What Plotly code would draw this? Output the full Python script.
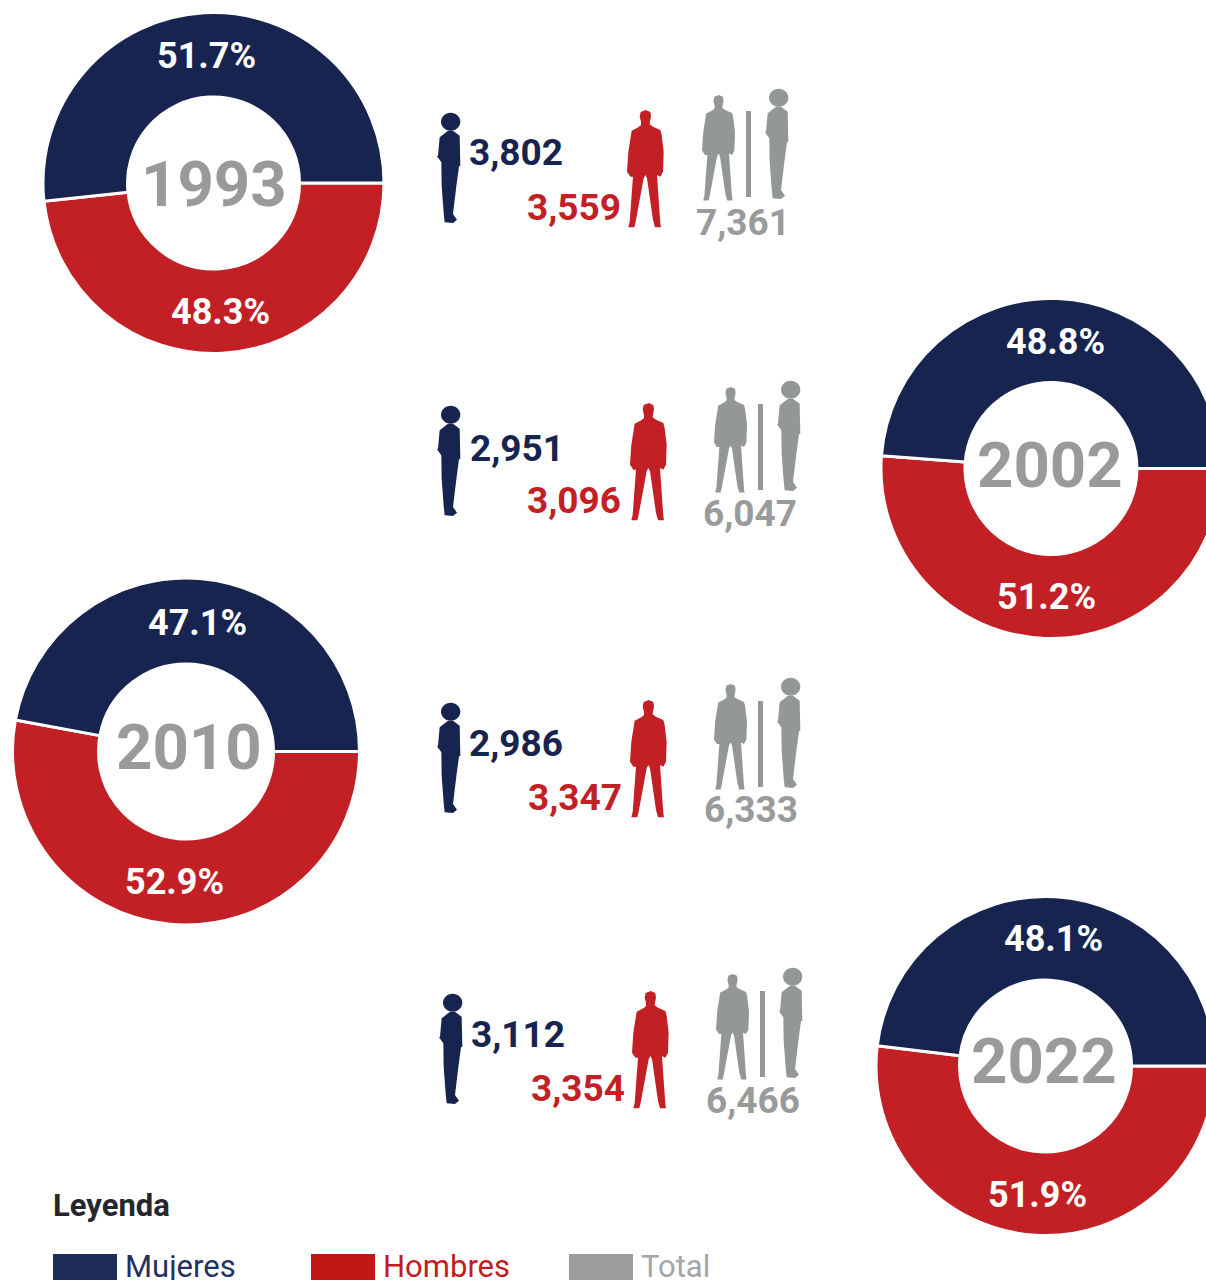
import math
import plotly.graph_objects as go

W, H = 1300, 1280
years = ["1993", "2002", "2010", "2022"]
mujeres_pct = [51.7, 48.8, 47.1, 48.1]
hombres_pct = [48.3, 51.2, 52.9, 51.9]
mujeres_n = ["3,802", "2,951", "2,986", "3,112"]
hombres_n = ["3,559", "3,096", "3,347", "3,354"]
total_n = ["7,361", "6,047", "6,333", "6,466"]
legend_labels = ["Mujeres", "Hombres", "Total"]

NAVY, RED, GREY = "#17244f", "#c32026", "#999b9b"
SIL_GREY = "#949797"
FONT = "Roboto"

# layout geometry (px)
donuts = [(213.5, 183, 169.5, 87), (1051, 468.5, 169, 87),
          (186, 751.5, 172.5, 88.5), (1045.5, 1066, 168.5, 87)]
year_pos = [(213.5, 184), (1049.5, 466), (188.5, 747), (1043.5, 1061)]
groups = [
    dict(w=(437, 113), m=(627, 110), gm=(702, 95), bar=(746, 111), gw=(765, 89),
         tn=(516, 153), tr=(573.5, 207), tt=(742.5, 223)),
    dict(w=(437, 406), m=(630, 403), gm=(714, 387), bar=(758, 404), gw=(777, 381),
         tn=(517, 448), tr=(574, 500), tt=(750, 513)),
    dict(w=(437, 703), m=(630, 700), gm=(714, 684), bar=(758, 701), gw=(777, 678),
         tn=(516, 743), tr=(575, 797), tt=(750.5, 809)),
    dict(w=(439, 994), m=(632, 991), gm=(716, 974), bar=(760, 991), gw=(779, 968),
         tn=(518, 1034), tr=(578, 1088), tt=(752.5, 1100)),
]

# silhouette outlines: icon glyphs in their own drawing units
MAN = [(56, 0), (70, 6), (72, 20), (69, 34), (68, 43), (78, 50), (100, 60), (104, 75), (110, 125), (108, 185),
       (100, 200), (90, 195), (100, 340), (102, 352), (84, 352), (78, 330), (60, 205),
       (55, 195), (50, 205), (26, 335), (22, 352), (4, 352), (8, 335), (18, 200), (10, 200), (0, 185),
       (4, 125), (14, 62), (34, 52), (42, 45), (42, 35), (38, 20), (41, 6)]
WOMAN_BODY = [(33, 53), (48, 53), (68, 68), (70, 158), (66, 160), (58, 220), (48, 303), (60, 320),
              (48, 330), (23, 328), (20, 300), (14, 218), (13, 148), (0, 130), (3, 128), (8, 73)]
WOMAN_HAIR = (41, 26, 29, 27)


def to_paper(x, y):
    return x / W, 1 - y / H


def poly_path(points, x0, y0, s):
    parts = []
    for i, (px, py) in enumerate(points):
        fx, fy = to_paper(x0 + px * s, y0 + py * s)
        parts.append(f"{'M' if i == 0 else 'L'}{fx:.5f},{fy:.5f}")
    return " ".join(parts) + " Z"


def hair_path(x0, y0, s):
    cx, cy, rx, ry = WOMAN_HAIR
    kx, ky = 0.5523 * rx, 0.5523 * ry
    def p(a, b):
        fx, fy = to_paper(x0 + (cx + a) * s, y0 + (cy + b) * s)
        return f"{fx:.5f},{fy:.5f}"
    return (f"M{p(rx, 0)} C{p(rx, ky)} {p(kx, ry)} {p(0, ry)} C{p(-kx, ry)} {p(-rx, ky)} {p(-rx, 0)} "
            f"C{p(-rx, -ky)} {p(-kx, -ry)} {p(0, -ry)} C{p(kx, -ry)} {p(rx, -ky)} {p(rx, 0)} Z")


shapes, annots = [], []


def add_shape_path(path, color):
    shapes.append(dict(type="path", xref="paper", yref="paper", path=path,
                       fillcolor=color, line=dict(width=0), layer="above"))


def add_rect(x0, y0, x1, y1, color):
    fx0, fy0 = to_paper(x0, y0)
    fx1, fy1 = to_paper(x1, y1)
    shapes.append(dict(type="rect", xref="paper", yref="paper", x0=fx0, x1=fx1, y0=fy1, y1=fy0,
                       fillcolor=color, line=dict(width=0)))


def add_text(text, x, y, size, color, weight=700, anchor="center", yanchor="middle"):
    fx, fy = to_paper(x, y)
    annots.append(dict(text=text, x=fx, y=fy, xref="paper", yref="paper", showarrow=False,
                       xanchor=anchor, yanchor=yanchor, borderpad=0,
                       font=dict(family=FONT, size=size, color=color, weight=weight)))


def draw_man(pos, color, s):
    add_shape_path(poly_path(MAN, pos[0], pos[1], s), color)


def draw_woman(pos, color, s):
    add_shape_path(poly_path(WOMAN_BODY, pos[0], pos[1], s), color)
    add_shape_path(hair_path(pos[0], pos[1], s), color)


def ring_label(pct_value, start_deg, donut):
    """Place a percentage at the middle of its slice, on the middle of the ring."""
    cx, cy, R, r = donut
    mid = math.radians(start_deg + pct_value * 1.8)
    rad = (R + r) / 2
    add_text(f"{pct_value:.1f}%", cx + rad * math.cos(mid), cy - rad * math.sin(mid) + 1, 36, "white")


fig = go.Figure()
for i, year in enumerate(years):
    cx, cy, R, r = donuts[i]
    R_draw = R + 1
    fig.add_trace(go.Pie(
        values=[hombres_pct[i], mujeres_pct[i]],
        labels=["Hombres", "Mujeres"],
        sort=False, direction="clockwise", rotation=90,
        hole=(r - 1) / R_draw,
        marker=dict(colors=[RED, NAVY], line=dict(color="white", width=3)),
        textinfo="none",
        showlegend=False,
        domain=dict(x=[(cx - R_draw) / W, (cx + R_draw) / W],
                    y=[1 - (cy + R_draw) / H, 1 - (cy - R_draw) / H]),
    ))
    ring_label(mujeres_pct[i], 0, donuts[i])
    ring_label(hombres_pct[i], mujeres_pct[i] * 3.6, donuts[i])
    add_text(year, year_pos[i][0], year_pos[i][1], 63.5, GREY)

    g = groups[i]
    draw_woman(g["w"], NAVY, 1 / 3)
    draw_man(g["m"], RED, 1 / 3)
    draw_man(g["gm"], SIL_GREY, 0.3)
    add_rect(g["bar"][0], g["bar"][1], g["bar"][0] + 5, g["bar"][1] + 86, SIL_GREY)
    draw_woman(g["gw"], SIL_GREY, 1 / 3)
    add_text(mujeres_n[i], g["tn"][0], g["tn"][1], 37, NAVY)
    add_text(hombres_n[i], g["tr"][0], g["tr"][1], 37, RED)
    add_text(total_n[i], g["tt"][0], g["tt"][1], 37, GREY)

# legend
add_text("Leyenda", 52, 1205, 31, "#25272c", anchor="left")
swatches = [(53, "#1f2d5b", "#24305f"), (311, "#c21717", "#c21c20"), (569, "#9e9c9e", "#a5a5a7")]
for (x, col, tcol), label in zip(swatches, legend_labels):
    add_rect(x, 1254, x + 64, 1282, col)
    add_text(label, x + 71, 1266, 31, tcol, weight=400, anchor="left")

fig.update_layout(
    width=W, height=H, margin=dict(l=0, r=0, t=0, b=0),
    paper_bgcolor="white", plot_bgcolor="white",
    shapes=shapes, annotations=annots, showlegend=False,
)

fig.write_html(
    "out.html",
    post_script="document.body.style.margin='0';document.documentElement.style.overflow='hidden';document.body.style.overflow='hidden';",
)
